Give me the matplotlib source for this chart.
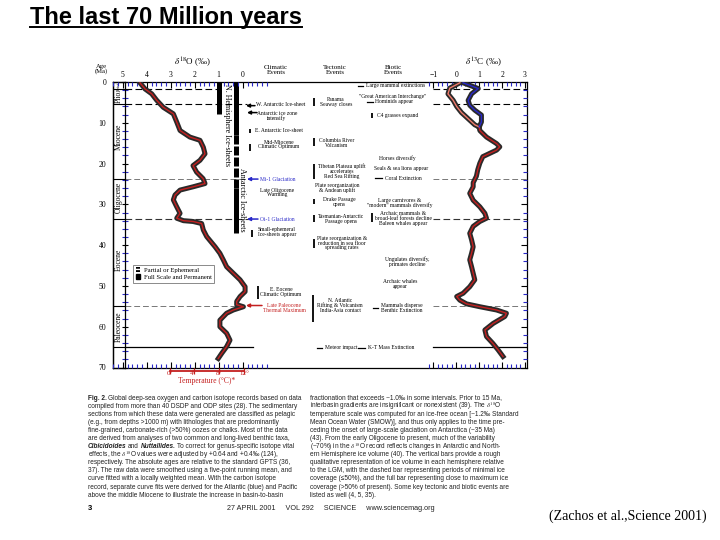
import matplotlib
matplotlib.use("Agg")
import matplotlib.pyplot as plt
import matplotlib.transforms as mtransforms
from matplotlib.lines import Line2D
from matplotlib.patches import Patch
from matplotlib.ticker import FixedLocator, MultipleLocator

plt.rcParams['font.family'] = ['Liberation Serif', 'DejaVu Serif']
plt.rcParams['mathtext.fontset'] = 'stix'

# ---- oxygen isotope record (age Ma, d18O permil)
age_o18 = [0.2, 1.7, 2.9, 4.5, 6.2, 7.8, 9.8, 11.9, 13.5, 14.3, 16.0, 17.6, 19.2,
           20.5, 22.1, 23.7, 24.9, 25.7, 26.5, 27.7, 28.9, 30.6, 32.2, 33.4, 34.0,
           34.2, 34.7, 36.3, 37.9, 40.4, 42.0, 43.6, 45.3, 46.9, 48.5, 50.2, 51.4,
           52.6, 53.8, 54.6, 55.1, 55.9, 56.7, 58.4, 60.0, 61.6, 63.3, 64.9, 66.5, 67.8]
d18o = [4.28, 4.07, 3.79, 3.58, 3.31, 2.89, 2.75, 2.61, 2.2, 1.78, 1.64, 1.57, 1.78,
        2.07, 1.92, 1.65, 1.57, 2.07, 2.61, 2.82, 2.89, 2.75, 2.61, 2.75, 2.47,
        2.07, 1.71, 1.64, 1.5, 1.15, 0.95, 0.81, 0.67, 0.39, 0.11, -0.1, -0.1,
        0.11, 0.25, 0.25, -0.03, 0.39, 0.67, 0.95, 0.95, 0.67, 0.53, 0.67, 0.87, 1.02]

# ---- carbon isotope record
age_c13 = [11.0, 11.9, 13.5, 15.1, 15.9, 16.7, 18.3, 19.9, 21.5, 23.1, 24.7, 25.7,
           27.3, 29.0, 30.6, 32.2, 33.4, 34.2, 35.4, 37.1, 38.7, 40.4, 42.0, 43.6,
           45.3, 46.9, 48.5, 50.2, 51.8, 52.6, 53.5, 54.4, 55.1, 55.9, 56.7, 57.5,
           59.2, 60.8, 62.4, 64.1, 65.7, 67.3]
d13c = [1.0, 1.03, 1.32, 1.76, 1.9, 1.76, 1.16, 1.03, 0.94, 0.88, 0.74, 0.74,
        0.59, 0.74, 1.03, 1.25, 1.32, 1.03, 0.74, 0.59, 0.67, 0.74, 0.67, 0.59,
        0.67, 0.74, 0.81, 0.59, 0.30, 0.02, 0.16, 0.45, 1.03, 1.76, 2.19, 2.12,
        1.61, 1.25, 1.32, 1.6, 1.83, 2.04]
age_atl = [0.2, 1.6, 2.9, 4.5, 5.7, 6.9, 8.1, 9.8, 11.0]
d13c_atl = [0.30, 0.96, 0.67, 0.52, 0.59, 0.81, 1.10, 1.10, 1.0]
age_pac = [0.2, 1.5, 2.9, 4.5, 6.0, 7.5, 9.0, 10.5, 11.0]
d13c_pac = [0.16, -0.28, -0.36, -0.13, 0.02, 0.23, 0.52, 0.81, 1.0]

epoch_names = ['Pleist.', 'Plio.', 'Miocene', 'Oligocene', 'Eocene', 'Paleocene']
epoch_mid = [0.9, 3.5, 13.5, 28.3, 43.5, 60.0]
epoch_bounds = [1.8, 5.3, 23.8, 33.7, 55.0, 65.0]

nh_ice_full = [(0, 7.8)]
ant_ice_full = [(0, 13.0), (26.0, 37.0)]
ant_ice_part = [(13.0, 26.0)]

climatic_labels = ['W. Antarctic Ice-sheet', 'Antarctic ice zone\nintensify',
                   'E. Antarctic Ice-sheet', 'Mid-Miocene\nClimatic Optimum',
                   'Mi-1 Glaciation', 'Late Oligocene\nWarming', 'Oi-1 Glaciation',
                   'Small-ephemeral\nIce-sheets appear', 'E. Eocene\nClimatic Optimum',
                   'Late Paleocene\nThermal Maximum']
climatic_ages = [5.6, 8.4, 12.0, 15.3, 23.8, 27.1, 33.6, 36.7, 51.5, 55.4]
climatic_marks = [('arrow', 5.8), ('arrow', 7.5), ('bar', (11.5, 12.6)), ('bar', (15.1, 16.8)),
                  ('arrow', 23.8), (None, None), ('arrow', 33.6), ('bar', (36.3, 38.0)),
                  ('bar', (49.9, 53.1)), ('arrow', 54.8)]

tectonic_labels = ['Panama\nSeaway closes', 'Columbia River\nVolcanism',
                   'Tibetan Plateau uplift\naccelerates\nRed Sea Rifting',
                   'Plate reorganization\n& Andean uplift', 'Drake Passage\nopens',
                   'Tasmanian-Antarctic\nPassage opens',
                   'Plate reorganization &\nreduction in sea floor\nspreading rates',
                   'N. Atlantic\nRifting & Volcanism\nIndia-Asia contact', 'Meteor impact']
tectonic_ages = [4.95, 15.0, 21.9, 26.0, 29.5, 33.5, 39.5, 54.8, 65.2]
tectonic_marks = [('bar', (4.0, 5.8)), ('bar', (13.8, 15.6)), ('bar', (20.2, 23.7)),
                  (None, None), ('bar', (28.8, 30.0)), ('bar', (32.5, 34.4)),
                  ('bar', (38.4, 40.6)), ('bar', (52.3, 58.9)), ('dash', 65.2)]

biotic_labels = ['Large mammal extinctions', '"Great American Interchange"',
                 'Hominids appear', 'C4 grasses expand', 'Horses diversify',
                 'Seals & sea lions appear', 'Coral Extinction',
                 'Large carnivores &\n"modern" mammals diversify',
                 'Archaic mammals &\nbroad-leaf forests decline\nBaleen whales appear',
                 'Ungulates diversify,\nprimates decline', 'Archaic whales\nappear',
                 'Mammals disperse\nBenthic Extinction', 'K-T Mass Extinction']
biotic_ages = [0.9, 3.6, 4.8, 8.3, 18.7, 21.3, 23.6, 29.6, 33.5, 44.1, 49.6, 55.4, 65.2]
biotic_marks = [('dash', 0.9), (None, None), ('dash', 4.8), ('bar', (7.7, 8.9)),
                (None, None), (None, None), ('dash', 23.6), (None, None),
                ('bar', (32.1, 34.3)), (None, None), (None, None), ('dash', 55.4),
                ('dash', 65.2)]

caption_left = [
    "Global deep-sea oxygen and carbon isotope records based on data",
    "compiled from more than 40 DSDP and ODP sites (28). The sedimentary",
    "sections from which these data were generated are classified as pelagic",
    "(e.g., from depths >1000 m) with lithologies that are predominantly",
    "fine-grained, carbonate-rich (>50%) oozes or chalks. Most of the data",
    "are derived from analyses of two common and long-lived benthic taxa,",
    "",
    r"effects, the $\delta^{18}$O values were adjusted by +0.64 and +0.4‰ (124),",
    "respectively. The absolute ages are relative to the standard GPTS (36,",
    "37). The raw data were smoothed using a five-point running mean, and",
    "curve fitted with a locally weighted mean. With the carbon isotope",
    "record, separate curve fits were derived for the Atlantic (blue) and Pacific",
    "above the middle Miocene to illustrate the increase in basin-to-basin",
]
caption_right = [
    "fractionation that exceeds ~1.0‰ in some intervals. Prior to 15 Ma,",
    r"interbasin gradients are insignificant or nonexistent (39). The $\delta^{18}$O",
    "temperature scale was computed for an ice-free ocean [~1.2‰ Standard",
    "Mean Ocean Water (SMOW)], and thus only applies to the time pre-",
    "ceding the onset of large-scale glaciation on Antarctica (~35 Ma)",
    "(43). From the early Oligocene to present, much of the variability",
    r"(~70%) in the $\delta^{18}$O record reflects changes in Antarctic and North-",
    "ern Hemisphere ice volume (40). The vertical bars provide a rough",
    "qualitative representation of ice volume in each hemisphere relative",
    "to the LGM, with the dashed bar representing periods of minimal ice",
    "coverage (≤50%), and the full bar representing close to maximum ice",
    "coverage (>50% of present). Some key tectonic and biotic events are",
    "listed as well (4, 5, 35).",
]

temp_ticks = [0, 4, 8, 12]
temp_d18o = [3.05, 2.05, 1.0, -0.05]

W, H = 720, 540
BLUE = '#2828c8'
RED = '#c42020'
EV_FS = 4.0
BAND = '#2a2a2a'

fig = plt.figure(figsize=(7.2, 5.4), dpi=100)


def rect(x0, x1, y0=82, y1=367.5):
    return [x0 / W, 1 - y1 / H, (x1 - x0) / W, (y1 - y0) / H]


def fx(xpx):
    return (xpx - 113) / 414.0


# frame
axf = fig.add_axes(rect(113, 527))
axf.set_xlim(0, 1)
axf.set_ylim(70, 0)
axf.set_xticks([])
axf.set_yticks(range(0, 80, 10))
axf.tick_params(axis='y', length=0, pad=5, labelsize=5.5)
for s in axf.spines.values():
    s.set_linewidth(0.9)
bt = mtransforms.blended_transform_factory(axf.transAxes, axf.transData)

# ice sheet bars
for a0, a1 in nh_ice_full:
    axf.plot([fx(219)] * 2, [a0, a1], transform=bt, color='k', lw=3.6, solid_capstyle='butt')
for a0, a1 in ant_ice_full:
    axf.plot([fx(235.5)] * 2, [a0, a1], transform=bt, color='k', lw=3.6, solid_capstyle='butt')
for a0, a1 in ant_ice_part:
    axf.plot([fx(235.5)] * 2, [a0, a1], transform=bt, color='k', lw=3.6,
             linestyle=(0, (1.8, 0.4)), dash_capstyle='butt')
axf.text(fx(227), 10.6, 'N. Hemisphere Ice-sheets', transform=bt, rotation=270,
         ha='center', va='center', fontsize=5.8)
axf.text(fx(242.5), 29.0, 'Antarctic Ice-sheets', transform=bt, rotation=270,
         ha='center', va='center', fontsize=5.8)

# boundary lines in left panel
left_ends = [218, 247, 249, 249, 249, 253]
left_styles = [('k', (0, (6, 3)), 0.8), ('k', (0, (6, 3)), 0.8), ('#777777', (0, (6, 3)), 0.7),
               ('#333333', (0, (6, 3)), 0.8), ('#777777', (0, (6, 3)), 0.7), ('k', '-', 0.9)]
for age, xe, (c, ls, lw) in zip(epoch_bounds, left_ends, left_styles):
    axf.plot([fx(125), fx(xe)], [age, age], transform=bt, color=c, linestyle=ls, lw=lw, zorder=1)


# events
def draw_events(labels, ages, marks, xs, has, colors, mark_x):
    for lab, age, (kind, m), x, ha, col, mx in zip(labels, ages, marks, xs, has, colors, mark_x):
        axf.text(fx(x), age, lab, transform=bt, ha=ha, va='center', fontsize=EV_FS,
                 color=col, linespacing=0.95)
        if kind == 'bar':
            axf.plot([fx(mx)] * 2, list(m), transform=bt, color='k', lw=1.3, solid_capstyle='butt')
        elif kind == 'dash':
            axf.plot([fx(mx[0]), fx(mx[1])], [m, m], transform=bt, color='k', lw=0.9)
        elif kind == 'arrow':
            axf.annotate('', xy=(fx(mx[0]), m), xytext=(fx(mx[1]), m), xycoords=bt,
                         textcoords=bt, arrowprops=dict(arrowstyle='-|>', color=col, lw=1.1,
                                                        mutation_scale=5, shrinkA=0, shrinkB=0))


draw_events(climatic_labels, climatic_ages, climatic_marks,
            [256, 277, 255, 279, 260, 277, 260, 277, 281, 284],
            ['left', 'center', 'left', 'center', 'left', 'center', 'left', 'center', 'center', 'center'],
            ['k', 'k', 'k', 'k', BLUE, 'k', BLUE, 'k', 'k', RED],
            [(246, 255), (247, 257), 250, 250, (247, 258), None, (247, 258), 252, 258, (246, 262)])
draw_events(tectonic_labels, tectonic_ages, tectonic_marks,
            [336, 337, 342, 337, 339, 341, 342, 340, 325],
            ['center'] * 8 + ['left'],
            ['k'] * 9,
            [314, 314, 314, None, 314, 314, 314, 312.7, (317, 322)])
draw_events(biotic_labels, biotic_ages, biotic_marks,
            [366, 393, 375, 377, 397, 401, 385, 400, 403, 407, 400, 402, 368],
            ['left', 'center', 'left', 'left', 'center', 'center', 'left', 'center',
             'center', 'center', 'center', 'center', 'left'],
            ['k'] * 13,
            [(358, 363), None, (367, 373), 372, None, None, (375, 382), None, 371.7,
             None, None, (373, 378), (358, 365)])

# legend
leg = axf.legend(handles=[Patch(facecolor='black', edgecolor='white', hatch='---', lw=0),
                          Patch(facecolor='black', edgecolor='black')],
                 labels=['Partial or Ephemeral', 'Full Scale and Permanent'],
                 loc='upper left', bbox_to_anchor=(130 / W, 1 - 261.5 / H),
                 bbox_transform=fig.transFigure, fontsize=4.8, handlelength=0.7,
                 handleheight=0.7, handletextpad=0.5, borderpad=0.35, labelspacing=0.25,
                 fancybox=False, framealpha=1, edgecolor='#777777')
leg.get_frame().set_linewidth(0.6)

# epoch column
axc = fig.add_axes(rect(113, 125))
axc.patch.set_visible(False)
axc.set_xlim(0, 1)
axc.set_ylim(70, 0)
axc.set_xticks([])
axc.yaxis.set_major_locator(MultipleLocator(10))
axc.yaxis.set_minor_locator(MultipleLocator(2))
axc.tick_params(axis='y', which='both', left=False, right=True, labelleft=False,
                direction='inout')
axc.tick_params(axis='y', which='major', length=5, width=0.8, color='k')
axc.tick_params(axis='y', which='minor', length=4, width=0.8, color=BLUE)
for s in axc.spines.values():
    s.set_linewidth(0.9)
for b in epoch_bounds:
    axc.axhline(b, color='k', lw=0.8)
for name, mid in zip(epoch_names, epoch_mid):
    axc.text(0.5, mid, name, rotation=90, ha='center', va='center',
             fontsize=3 if name == 'Pleist.' else 5.5)

# d18O panel
ax18 = fig.add_axes(rect(113, 267))
ax18.patch.set_visible(False)
ax18.set_xlim(5 + (122.7 - 113) / 24, 5 - (267 - 122.7) / 24)
ax18.set_ylim(70, 0)
for s in ax18.spines.values():
    s.set_visible(False)
ax18.set_yticks([])
ax18.xaxis.set_major_locator(FixedLocator([5, 4, 3, 2, 1, 0]))
ax18.xaxis.set_minor_locator(MultipleLocator(0.2))
ax18.tick_params(axis='x', which='both', top=True, bottom=True, direction='in',
                 labeltop=True, labelbottom=False, labelsize=5.5, pad=2)
ax18.tick_params(axis='x', which='major', length=4, color='k', width=0.8)
ax18.tick_params(axis='x', which='minor', length=3, color=BLUE, width=0.8)
ax18.plot(d18o, age_o18, color=BAND, lw=3.6, solid_joinstyle='round', zorder=3)
ax18.plot(d18o, age_o18, color=RED, lw=1.0, zorder=4)
ax18.text(2.1, -3.3, r'$\delta^{18}$O (‰)', ha='center', va='bottom', fontsize=6.5)

# temperature scale below d18O panel
for t, d in zip(temp_ticks, temp_d18o):
    ax18.text(d, 70.9, f'{t}°', ha='center', va='top', fontsize=5, color=RED, clip_on=False)
ax18.plot(temp_d18o, [70.9] * len(temp_d18o), color=RED, lw=1.3, clip_on=False,
          marker='|', ms=4, mew=0.9)
ax18.text(1.5, 73.3, 'Temperature (°C)*', ha='center', va='center', fontsize=5.5,
          color=RED, clip_on=False)

# d13C panel
ax13 = fig.add_axes(rect(425, 527))
ax13.patch.set_visible(False)
ax13.set_xlim(-1 - (433.3 - 425) / 23, 3 + (527 - 525) / 23)
ax13.set_ylim(70, 0)
for s in ax13.spines.values():
    s.set_visible(False)
ax13.xaxis.set_major_locator(FixedLocator([-1, 0, 1, 2, 3]))
ax13.xaxis.set_minor_locator(MultipleLocator(0.2))
ax13.tick_params(axis='x', which='both', top=True, bottom=True, direction='in',
                 labeltop=True, labelbottom=False, labelsize=5.5, pad=2)
ax13.tick_params(axis='x', which='major', length=4, color='k', width=0.8)
ax13.tick_params(axis='x', which='minor', length=3, color=BLUE, width=0.8)
ax13.yaxis.set_major_locator(MultipleLocator(10))
ax13.yaxis.set_minor_locator(MultipleLocator(2))
ax13.tick_params(axis='y', which='both', left=False, right=True, labelleft=False,
                 direction='in')
ax13.tick_params(axis='y', which='major', length=4, color='k', width=0.8)
ax13.tick_params(axis='y', which='minor', length=3, color=BLUE, width=0.8)
right_styles = [('k', (0, (6, 3)), 0.8), ('k', (0, (6, 3)), 0.8), ('#777777', (0, (6, 3)), 0.7),
                ('#333333', (0, (6, 3)), 0.8), ('#777777', (0, (6, 3)), 0.7), ('k', '-', 0.9)]
for age, (c, ls, lw) in zip(epoch_bounds, right_styles):
    ax13.axhline(age, xmin=0.08, color=c, linestyle=ls, lw=lw, zorder=1)
ax13.plot(d13c_pac, age_pac, color=BAND, lw=3.6, zorder=3)
ax13.plot(d13c_atl, age_atl, color=BAND, lw=3.6, zorder=3)
ax13.plot(d13c, age_c13, color=BAND, lw=3.6, solid_joinstyle='round', zorder=3)
ax13.plot(d13c, age_c13, color=RED, lw=1.0, zorder=4)
ax13.plot(d13c_pac, age_pac, color='#f07a6a', lw=1.0, zorder=5)
ax13.plot(d13c_atl, age_atl, color=BLUE, lw=1.0, zorder=5)
ax13.text(1.2, -3.3, r'$\delta^{13}$C (‰)', ha='center', va='bottom', fontsize=6.5)

# headers
fig.text(101 / W, 1 - 69 / H, 'Age\n(Ma)', ha='center', va='center', fontsize=4.8, linespacing=1.0)
for x, lab in [(276, 'Climatic\nEvents'), (335, 'Tectonic\nEvents'), (393, 'Biotic\nEvents')]:
    fig.text(x / W, 1 - 70 / H, lab, ha='center', va='center', fontsize=5, linespacing=1.05)

# caption
CAP_FS = 4.7
CAP = dict(fontsize=CAP_FS, color='#222222', va='center', family=['Liberation Sans', 'DejaVu Sans'])
fig.canvas.draw()
rend = fig.canvas.get_renderer()


def draw_run(x, y, pieces):
    for txt, weight, style in pieces:
        t = fig.text(x / W, 1 - y / H, txt, fontweight=weight, fontstyle=style, **CAP)
        bb = t.get_window_extent(rend)
        x = bb.x1 + 1.6


for i, line in enumerate(caption_left):
    y = 398 + i * 8.1
    if i == 0:
        draw_run(88, y, [('Fig. 2.', 'bold', 'normal'), (line, 'normal', 'normal')])
    elif i == 6:
        draw_run(88, y, [('Cibicidoides', 'bold', 'italic'), ('and', 'normal', 'normal'),
                         ('Nuttallides.', 'bold', 'italic'),
                         ('To correct for genus-specific isotope vital', 'normal', 'normal')])
    else:
        fig.text(88 / W, 1 - y / H, line, **CAP)
for i, line in enumerate(caption_right):
    y = 398 + i * 8.1
    fig.text(310 / W, 1 - y / H, line, **CAP)

fig.text(88 / W, 1 - 508 / H, '3', fontsize=5.5, fontweight='bold', va='center',
         family=['Liberation Sans', 'DejaVu Sans'])
fig.text(227 / W, 1 - 508 / H, '27 APRIL 2001     VOL 292     SCIENCE     www.sciencemag.org',
         fontsize=5.2, va='center', color='#222222', family=['Liberation Sans', 'DejaVu Sans'])

fig.text(549 / W, 1 - 516 / H, '(Zachos et al.,Science 2001)', fontsize=10, va='center',
         family=['Liberation Serif', 'DejaVu Serif'])

# title with underline
title = fig.text(30 / W, 1 - 24 / H, 'The last 70 Million years', fontsize=17,
                 fontweight='bold', va='baseline', family=['Liberation Sans', 'DejaVu Sans'])
bb = title.get_window_extent(rend)
uy = 1 - 26.5 / H
fig.add_artist(Line2D([bb.x0 / W, bb.x1 / W], [uy, uy], transform=fig.transFigure,
                      color='k', lw=1.4))

fig.savefig('out.png', dpi=100, facecolor='white')
